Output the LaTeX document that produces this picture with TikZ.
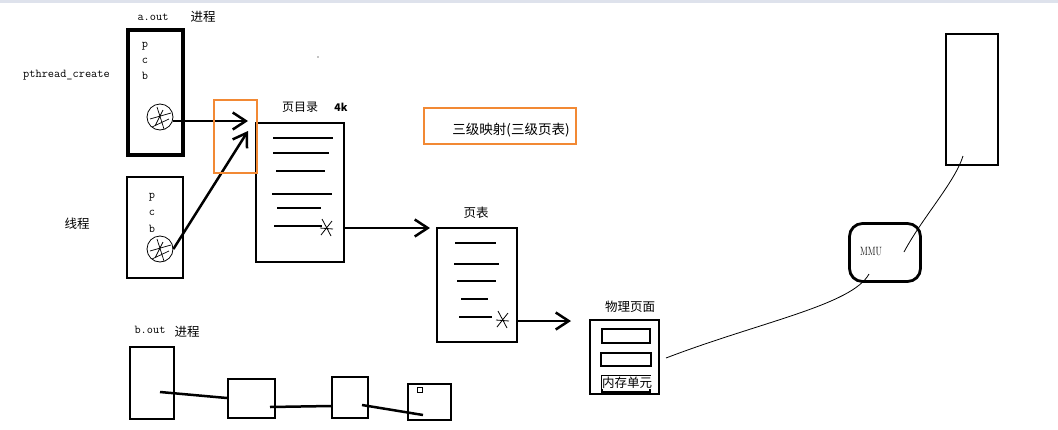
\documentclass[tikz,border=0pt]{standalone}
\usepackage{fontspec}
\newfontfamily\cjk{Noto Sans CJK SC}
\usetikzlibrary{arrows.meta,calc}
\definecolor{hl}{RGB}{242,137,52}
\definecolor{band}{RGB}{222,226,236}
\begin{document}
\begin{tikzpicture}[x=1pt,y=-1pt,
  box/.style={draw,line width=2.6pt,inner sep=0pt},
  thickbox/.style={box,line width=4pt},
  thinbox/.style={draw,line width=2.3pt,inner sep=0pt},
  entry/.style={line width=2.6pt},
  link/.style={line width=2.5pt},
  barb/.style={link,-{Straight Barb[length=13pt,width=17pt,line width=2.5pt]}},
  lbl/.style={font=\cjk\fontsize{12.5}{12.5}\selectfont,inner sep=0pt},
  tt/.style={font=\ttfamily\fontsize{12}{12}\selectfont,inner sep=0pt},
  wire/.style={line width=0.8pt},
  hilite/.style={draw=hl,line width=2.8pt,inner sep=0pt},
  scrib/.style={circle,draw,line width=0.8pt,minimum size=26pt,inner sep=0pt},
  xmark/.pic={\draw[line width=0.8pt] (-5,-9) -- (4,8) (-6,7) -- (5,-7) (-7,0) -- (6,1);}
]
\useasboundingbox (0,0) rectangle (1058,429);
\fill[band] (0,0) rectangle (1058,3);

% ---- process a.out and its thread ----
\node[thickbox,minimum width=55pt,minimum height=125pt] (aout) at (155.5,92) {};
\node[tt] (aoutlbl) at (153,17) {a.out};
\node[lbl] (proc1) at (203,17) {进程};
\node[tt] (pa) at (145,46) {p};
\node[tt] (ca) at (145,61) {c};
\node[tt] (ba) at (145,76) {b};
\node[tt] (pcreate) at (66.5,75) {pthread\_create};
\node[scrib] (sa) at (160,117) {};
\draw[line width=0.7pt] (150,119) -- (171,113) (157,107) -- (164,129) (152,127) -- (169,119) (163,110) -- (155,126);

\node[box,minimum width=56pt,minimum height=101pt] (thr) at (155,227.5) {};
\node[lbl] (thrlbl) at (77,224) {线程};
\node[tt] (pb) at (152,197) {p};
\node[tt] (cb) at (152,213) {c};
\node[tt] (bb) at (152,229) {b};
\node[scrib] (sb) at (160,249) {};
\draw[line width=0.7pt] (150,251) -- (171,245) (157,239) -- (164,261) (152,259) -- (169,251) (163,242) -- (155,258);

% ---- page directory ----
\node[box,minimum width=88pt,minimum height=139pt] (dir) at (300,192.5) {};
\node[lbl,font=\cjk\fontsize{12}{12}\selectfont] (dirlbl) at (300,107) {页目录};
\node[lbl,font=\cjk\fontsize{10.5}{10.5}\selectfont\bfseries] (dirsize) at (341,107) {4k};
\draw[entry] (273,138) -- (333,138) (273,153) -- (329,153) (276,171) -- (325,171)
  (272,194) -- (332,194) (277,208) -- (321,208) (274,226) -- (322,226);
\pic at (327,228) {xmark};
\coordinate (dirin) at (248,121);
\coordinate (dirin2) at (248,131);
\draw[barb] (sa.east |- dirin) -- (dirin);
\draw[barb] (sb.east) -- (dirin2);
\node[hilite,minimum width=43pt,minimum height=73pt] (mark1) at (235.5,136.5) {};

% ---- three-level note ----
\node[hilite,minimum width=152pt,minimum height=36pt] (mark2) at (500,126) {};
\node[lbl,font=\cjk\fontsize{13.5}{13.5}\selectfont] (note) at (511,130) {三级映射(三级页表)};

% ---- page table ----
\node[box,minimum width=80pt,minimum height=114pt] (pt) at (477,285) {};
\node[lbl] (ptlbl) at (476,213) {页表};
\draw[entry] (455,243) -- (496,243) (454,264) -- (499,264) (457,281) -- (496,281)
  (461,299) -- (488,299) (459,317) -- (492,317);
\pic at (503,320) {xmark};
\coordinate (ptin) at (430,228);
\draw[barb] (dir.east |- ptin) -- (ptin);

% ---- physical page ----
\node[box,minimum width=69pt,minimum height=74pt] (phys) at (624.5,357) {};
\node[lbl] (physlbl) at (630,307) {物理页面};
\node[thinbox,minimum width=48pt,minimum height=14pt] (cell1) at (626,336) {};
\node[thinbox,minimum width=50pt,minimum height=13pt] (cell2) at (626,359.5) {};
\node[thinbox,minimum width=48pt,minimum height=16pt] (cell3) at (626,384) {};
\node[lbl,fill=white,inner sep=0.3pt] (celllbl) at (627,382.5) {内存单元};
\coordinate (physin) at (571,321);
\draw[barb] (pt.east |- physin) -- (physin);

% ---- MMU and memory ----
\node[draw,line width=2.8pt,rounded corners=13pt,minimum width=71pt,minimum height=58pt] (mmu) at (885,252.5) {};
\node[inner sep=0pt,font=\fontsize{12}{12}\selectfont] (mmulbl) at (871,252) {\scalebox{0.72}[1]{MMU}};
\node[box,minimum width=52pt,minimum height=131pt] (mem) at (972,99.5) {};
\coordinate (physout) at (666,358);
\coordinate (mmuin) at (869,274);
\coordinate (mmuout) at (904,252);
\coordinate (memin) at (963,156);
\draw[wire] (physout) .. controls (760,322) and (852,305) .. (mmuin);
\draw[wire] (mmuout) .. controls (922,218) and (955,182) .. (memin);

% ---- process b.out ----
\node[tt] (boutlbl) at (150,330) {b.out};
\node[lbl] (proc2) at (187,332) {进程};
\node[thinbox,minimum width=44pt,minimum height=72pt] (b1) at (152,383) {};
\node[thinbox,minimum width=47pt,minimum height=39pt] (b2) at (251.5,398.5) {};
\node[thinbox,minimum width=36pt,minimum height=41pt] (b3) at (350,397.5) {};
\node[thinbox,minimum width=43pt,minimum height=36pt] (b4) at (429.5,402) {};
\node[draw,line width=0.8pt,minimum size=5pt,inner sep=0pt] (b4sq) at (420,390) {};
\coordinate (b1o) at (160,392);
\coordinate (b2o) at (270,407);
\coordinate (b3o) at (362,405);
\coordinate (b4i) at (423,415);
\draw[link] (b1o) -- (b2.west |- 0,398);
\draw[link] (b2o) -- (b3.west |- 0,406);
\draw[link] (b3o) -- (b4i);

% stray pen dot
\fill (318,57) circle (0.7);
\end{tikzpicture}
\end{document}
